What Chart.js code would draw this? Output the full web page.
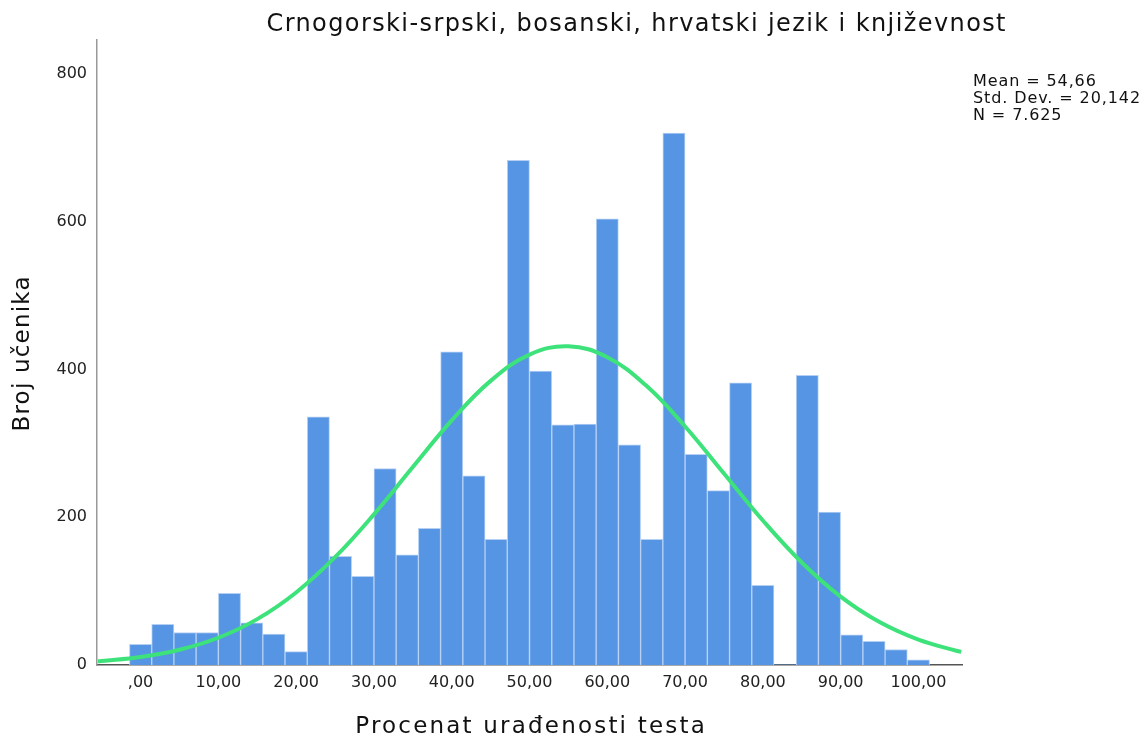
<!DOCTYPE html>
<html lang="sr">
<head>
    <meta charset="UTF-8">
    <title>Crnogorski-srpski, bosanski, hrvatski jezik i književnost</title>
    <script src="https://cdn.jsdelivr.net/npm/chart.js"></script>
    <style>
        html, body {
            margin: 0;
            padding: 0;
            background: #fff;
        }
        #wrap {
            position: relative;
            width: 1145px;
            height: 737px;
        }
    </style>
</head>
<body>
<div id="wrap">
    <canvas id="histChart" width="1145" height="737"></canvas>
</div>

<script>
    // bin centres (bin width 100/35) and counts
    const binCenters = [
        0, 2.86, 5.71, 8.57, 11.43, 14.29, 17.14, 20, 22.86, 25.71, 28.57, 31.43,
        34.29, 37.14, 40, 42.86, 45.71, 48.57, 51.43, 54.29, 57.14, 60, 62.86, 65.71,
        68.57, 71.43, 74.29, 77.14, 80, 82.86, 85.71, 88.57, 91.43, 94.29, 97.14, 100
    ];
    const counts = [
        28, 55, 44, 44, 97, 57, 42, 18, 336, 147, 120, 266,
        149, 185, 424, 256, 170, 683, 398, 325, 326, 604, 298, 170,
        720, 285, 236, 382, 108, 0, 392, 207, 41, 32, 21, 7
    ];

    // normal curve heights
    const curveX = [-5.5, -5, 0, 5, 10, 15, 20, 25, 30, 35, 40, 45, 50, 55, 60, 65, 70, 75, 80, 85, 90, 95, 100, 105, 105.5];
    const curveY = [5, 5.4, 10.9, 20.7, 36.9, 62.1, 98.2, 145.9, 203.9, 268, 331.1, 384.6, 420.1, 431.4, 416.6, 378.2, 322.9, 259.2, 195.6, 138.8, 92.6, 58.1, 34.3, 19, 17.8];

    const xTicks = [0, 10, 20, 30, 40, 50, 60, 70, 80, 90, 100];
    const yTicks = [0, 200, 400, 600, 800];
    const statsLines = ['Mean = 54,66', 'Std. Dev. = 20,142', 'N = 7.625'];

    const FONT = "'DejaVu Sans', Verdana, sans-serif";

    function fmtX(v) {
        // SPSS style: ",00", "10,00"
        return (v === 0 ? '' : String(v)) + ',00';
    }

    // draws text centred on x even with letter spacing
    function spacedText(ctx, txt, x, y, spacing) {
        ctx.letterSpacing = spacing + 'px';
        const w = ctx.measureText(txt).width;
        ctx.textAlign = 'left';
        ctx.fillText(txt, x - (w - spacing) / 2, y);
        ctx.letterSpacing = '0px';
    }

    // titles and the stats box drawn on the canvas
    const textPlugin = {
        id: 'textPlugin',
        afterDraw(chart) {
            const ctx = chart.ctx;
            ctx.save();
            ctx.fillStyle = '#111';
            ctx.textBaseline = 'middle';

            ctx.font = '24px ' + FONT;
            spacedText(ctx, 'Crnogorski-srpski, bosanski, hrvatski jezik i književnost', 636, 25, 1.4);

            ctx.font = '23px ' + FONT;
            spacedText(ctx, 'Procenat urađenosti testa', 530, 727, 2.2);

            ctx.save();
            ctx.translate(23, 354);
            ctx.rotate(-Math.PI / 2);
            ctx.font = '23px ' + FONT;
            spacedText(ctx, 'Broj učenika', 0, 0, 1.2);
            ctx.restore();

            ctx.font = '16px ' + FONT;
            ctx.textAlign = 'left';
            ctx.letterSpacing = '0.9px';
            statsLines.forEach((s, i) => ctx.fillText(s, 973, 82 + i * 16.7));
            ctx.letterSpacing = '0px';
            ctx.restore();
        }
    };

    const ctx = document.getElementById('histChart').getContext('2d');
    new Chart(ctx, {
        type: 'bar',
        data: {
            datasets: [
                {
                    type: 'line',
                    data: curveX.map((x, i) => ({x: x, y: curveY[i]})),
                    borderColor: '#3de27a',
                    borderWidth: 4,
                    pointRadius: 0,
                    tension: 0.4,
                    fill: false,
                    order: 0
                },
                {
                    type: 'bar',
                    data: binCenters.map((x, i) => ({x: x, y: counts[i]})),
                    backgroundColor: '#5694e4',
                    borderColor: '#b5d0f3',
                    borderWidth: (c) => (c.raw && c.raw.y === 0 ? 0 : 1),
                    barPercentage: 1.0,
                    categoryPercentage: 1.0,
                    order: 1
                }
            ]
        },
        options: {
            responsive: false,
            animation: false,
            events: [],
            layout: {
                padding: {left: 0, right: 183, top: 40, bottom: 0}
            },
            plugins: {
                legend: {display: false},
                title: {display: false},
                tooltip: {enabled: false}
            },
            scales: {
                x: {
                    type: 'linear',
                    min: -5.6,
                    max: 105.6,
                    offset: false,
                    grid: {display: false},
                    border: {display: true, color: '#555', width: 1.5},
                    afterBuildTicks: (scale) => {
                        scale.ticks = xTicks.map(v => ({value: v}));
                    },
                    afterFit: (scale) => {
                        scale.height = 72;
                    },
                    ticks: {
                        padding: 0,
                        maxRotation: 0,
                        autoSkip: false,
                        color: '#222',
                        font: {family: FONT, size: 16},
                        callback: (v) => fmtX(v)
                    }
                },
                y: {
                    min: 0,
                    max: 846,
                    grid: {display: false},
                    border: {display: true, color: '#999', width: 1.5},
                    afterBuildTicks: (scale) => {
                        scale.ticks = yTicks.map(v => ({value: v}));
                    },
                    afterFit: (scale) => {
                        scale.width = 97;
                    },
                    ticks: {
                        padding: 2,
                        color: '#222',
                        font: {family: FONT, size: 16}
                    }
                }
            }
        },
        plugins: [textPlugin]
    });
</script>
</body>
</html>
